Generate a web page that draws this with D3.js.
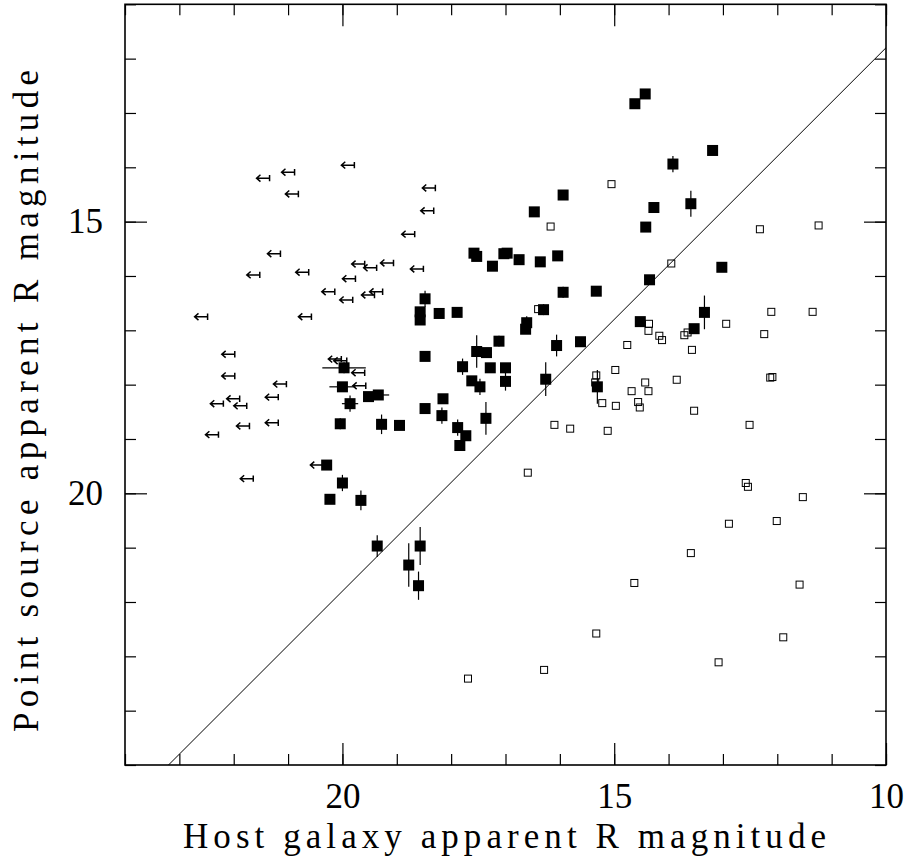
<!DOCTYPE html>
<html>
<head>
<meta charset="utf-8">
<script src="https://cdn.jsdelivr.net/npm/d3@7"></script>
<style>
  body { margin: 0; background: #fff; }
  svg text { font-family: "Liberation Serif", "DejaVu Serif", "Noto Serif", "FreeSerif", "Times New Roman", Times, serif; fill: #000; }
</style>
</head>
<body>
<div id="chart"></div>
<script>
// detections (filled squares): host mag, point source mag, errors
var detHost = [14.43,14.62,13.19,13.92,15.94,16.47,14.27,13.59,14.42,17.58,
	17.53,17.24,17.03,16.97,16.75,16.36,16.04,13.02,14.35,15.94,
	15.33,18.48,18.57,18.57,18.22,17.89,16.30,16.61,16.63,13.34,
	14.52,13.53,17.12,17.53,17.35,16.06,15.62,18.48,17.79,17.28,
	17.00,17.62,17.47,17.00,16.26,15.31,18.15,18.48,18.17,17.36,
	17.88,17.73,17.84,19.34,19.52,19.97,20.00,19.86,20.04,19.28,
	18.95,20.29,20.00,20.23,19.66,19.36,18.57,18.78,18.60];
var detPoint = [12.65,12.83,13.69,13.94,14.51,14.82,14.74,14.67,15.10,15.58,
	15.64,15.82,15.59,15.58,15.70,15.74,15.63,15.84,16.07,16.30,
	16.28,16.42,16.66,16.81,16.69,16.67,16.62,16.86,16.98,16.67,
	16.84,16.97,17.20,17.39,17.41,17.28,17.21,17.48,17.67,17.69,
	17.69,17.93,18.04,17.94,17.90,18.04,18.26,18.44,18.57,18.62,
	18.79,18.94,19.12,18.19,18.22,17.69,18.04,18.35,18.72,18.73,
	18.75,19.48,19.81,20.11,20.13,20.97,20.97,21.32,21.70];
var detPointErr = [0,0,0,0.15,0,0,0,0.24,0,0,
	0,0,0,0,0,0,0,0,0,0.1,
	0,0.15,0,0,0,0,0.1,0.12,0,0.31,
	0,0,0.1,0.3,0,0.2,0,0,0.15,0,
	0,0,0.15,0.17,0.31,0.31,0,0,0.15,0.3,
	0.15,0,0,0,0,0.1,0,0.15,0.1,0.18,
	0,0,0.15,0,0.18,0.2,0.35,0.4,0.26];
var detHostErr = [0,0,0,0,0,0,0,0,0,0,
	0,0,0,0,0,0,0,0,0,0,
	0,0,0,0,0,0,0,0,0,0,
	0,0,0,0,0,0,0,0,0,0,
	0,0,0,0,0,0,0,0,0,0,
	0,0,0,0.2,0,0.4,0.24,0.15,0,0,
	0,0,0,0,0,0,0,0,0];

// open squares
var openHost = [15.05,16.17,12.32,11.24,13.95,16.40,12.11,11.35,12.94,14.36,
	14.37,14.17,14.12,13.71,13.65,13.57,12.24,14.76,14.98,15.33,
	15.35,14.43,14.68,14.37,13.85,15.22,14.97,14.56,14.53,13.53,
	12.13,12.09,15.12,16.10,15.81,12.51,16.59,12.58,12.54,11.53,
	12.89,12.01,13.59,14.63,11.59,15.33,11.89,13.08,16.29,17.69];
var openPoint = [14.31,15.09,15.14,15.07,15.77,16.61,16.66,16.66,16.88,16.88,
	17.01,17.10,17.18,17.09,17.04,17.36,17.07,17.27,17.73,17.83,
	17.96,17.96,18.12,18.12,17.91,18.34,18.39,18.32,18.42,18.48,
	17.87,17.86,18.85,18.74,18.81,18.74,19.62,19.81,19.88,20.07,
	20.56,20.51,21.10,21.65,21.68,22.58,22.65,23.11,23.25,23.41];

// host upper limits (arrows)
var limHost = [21.46,21.00,20.93,19.90,18.41,18.44,18.79,21.26,21.64,20.74,
	19.18,19.71,19.49,18.63,19.88,20.26,19.53,19.38,19.93,22.60,
	20.69,22.10,22.10,20.14,20.04,19.71,19.69,21.15,21.30,22.01,
	22.31,21.88,21.30,21.83,22.40,21.76,20.47];
var limPoint = [14.20,14.09,14.49,13.96,14.38,14.80,15.23,15.59,15.98,15.93,
	15.76,15.78,15.85,15.87,16.05,16.29,16.35,16.29,16.44,16.75,
	16.75,17.44,17.84,17.53,17.56,17.78,18.02,17.99,18.23,18.26,
	18.35,18.39,18.70,18.76,18.92,19.73,19.48];

// diagonal line
var lineHost = [23.2, 10];
var linePoint = [25, 11.8];

var xMajor = [20, 15, 10];
var yMajor = [15, 20];
var xTitle = "Host galaxy apparent R magnitude";
var yTitle = "Point source apparent R magnitude";

var width = 908, height = 860;
var margin = { top: 4.3, right: 22, bottom: 95, left: 125 };
var plotW = width - margin.left - margin.right;
var plotH = height - margin.top - margin.bottom;
var serif = "'Liberation Serif', 'DejaVu Serif', 'Noto Serif', FreeSerif, 'Times New Roman', Times, serif";

var x = d3.scaleLinear().domain([24, 10]).range([0, plotW]);
var y = d3.scaleLinear().domain([11, 25]).range([0, plotH]);

var svg = d3.select("#chart").append("svg")
	.attr("width", width)
	.attr("height", height);

var g = svg.append("g")
	.attr("transform", "translate(" + margin.left + "," + margin.top + ")");

// ticks: minor every magnitude, major every 5
var xMinorVals = d3.range(10, 25);
var yMinorVals = d3.range(11, 26);

function ticks(axis, vals, size) {
	return axis.tickValues(vals).tickSize(-size).tickFormat("");
}

g.append("g").attr("transform", "translate(0," + plotH + ")")
	.call(ticks(d3.axisBottom(x), xMinorVals, 11));
g.append("g").attr("transform", "translate(0," + plotH + ")")
	.call(d3.axisBottom(x).tickValues(xMajor).tickSize(-22).tickPadding(18).tickFormat(d3.format("d")));
g.append("g").call(ticks(d3.axisTop(x), xMinorVals, 11));
g.append("g").call(ticks(d3.axisTop(x), xMajor, 22));

g.append("g").call(ticks(d3.axisLeft(y), yMinorVals, 11));
g.append("g")
	.call(d3.axisLeft(y).tickValues(yMajor).tickSize(-22).tickPadding(22).tickFormat(d3.format("d")));
g.append("g").attr("transform", "translate(" + plotW + ",0)")
	.call(ticks(d3.axisRight(y), yMinorVals, 11));
g.append("g").attr("transform", "translate(" + plotW + ",0)")
	.call(ticks(d3.axisRight(y), yMajor, 22));

g.selectAll(".domain").remove();
g.selectAll("g").attr("font-family", serif);
g.selectAll(".tick line").attr("stroke", "#000").attr("stroke-width", 1.2);
g.selectAll(".tick text")
	.attr("font-family", serif)
	.style("font-family", serif)
	.style("font-size", "35px")
	.attr("fill", "#000");

// frame
g.append("rect")
	.attr("x", 0).attr("y", 0)
	.attr("width", plotW).attr("height", plotH)
	.attr("fill", "none")
	.attr("stroke", "#000")
	.attr("stroke-width", 1.6);

// clip for the diagonal
g.append("clipPath").attr("id", "plotclip")
	.append("rect").attr("width", plotW).attr("height", plotH);

g.append("line")
	.attr("clip-path", "url(#plotclip)")
	.attr("x1", x(lineHost[0])).attr("y1", y(linePoint[0]))
	.attr("x2", x(lineHost[1])).attr("y2", y(linePoint[1]))
	.attr("stroke", "#000")
	.attr("stroke-width", 1);

// open squares
var openData = openHost.map(function(h, i) { return { h: h, p: openPoint[i] }; });
var os = 7;
g.selectAll(".open").data(openData).enter().append("rect")
	.attr("class", "open")
	.attr("x", function(d) { return x(d.h) - os / 2; })
	.attr("y", function(d) { return y(d.p) - os / 2; })
	.attr("width", os).attr("height", os)
	.attr("fill", "none")
	.attr("stroke", "#000")
	.attr("stroke-width", 1);

// upper limit arrows
var limData = limHost.map(function(h, i) { return { h: h, p: limPoint[i] }; });
g.selectAll(".lim").data(limData).enter().append("path")
	.attr("class", "lim")
	.attr("transform", function(d) { return "translate(" + x(d.h) + "," + y(d.p) + ")"; })
	.attr("d", "M-6.5,0H6.5M6.5,-3.2V3.2M-2.6,-3.4L-6.5,0L-2.6,3.4")
	.attr("fill", "none")
	.attr("stroke", "#000")
	.attr("stroke-width", 1.5);

// detections with error bars
var detData = detHost.map(function(h, i) {
	return { h: h, p: detPoint[i], ep: detPointErr[i], eh: detHostErr[i] };
});

g.selectAll(".ey").data(detData.filter(function(d) { return d.ep > 0; }))
	.enter().append("line")
	.attr("class", "ey")
	.attr("x1", function(d) { return x(d.h); })
	.attr("x2", function(d) { return x(d.h); })
	.attr("y1", function(d) { return y(d.p - d.ep); })
	.attr("y2", function(d) { return y(d.p + d.ep); })
	.attr("stroke", "#000")
	.attr("stroke-width", 1.2);

g.selectAll(".ex").data(detData.filter(function(d) { return d.eh > 0; }))
	.enter().append("line")
	.attr("class", "ex")
	.attr("x1", function(d) { return x(d.h - d.eh); })
	.attr("x2", function(d) { return x(d.h + d.eh); })
	.attr("y1", function(d) { return y(d.p); })
	.attr("y2", function(d) { return y(d.p); })
	.attr("stroke", "#000")
	.attr("stroke-width", 1.2);

var fs = 11;
g.selectAll(".det").data(detData).enter().append("rect")
	.attr("class", "det")
	.attr("x", function(d) { return x(d.h) - fs / 2; })
	.attr("y", function(d) { return y(d.p) - fs / 2; })
	.attr("width", fs).attr("height", fs)
	.attr("fill", "#000");

// axis titles
svg.append("text")
	.attr("x", margin.left + plotW / 2 - 1)
	.attr("y", 848)
	.attr("text-anchor", "middle")
	.attr("textLength", 643)
	.attr("lengthAdjust", "spacing")
	.style("font-family", serif)
	.style("font-size", "35px")
	.text(xTitle);

svg.append("text")
	.attr("transform", "translate(38," + 401 + ") rotate(-90)")
	.attr("text-anchor", "middle")
	.attr("textLength", 662)
	.attr("lengthAdjust", "spacing")
	.style("font-family", serif)
	.style("font-size", "35px")
	.text(yTitle);
</script>
</body>
</html>
